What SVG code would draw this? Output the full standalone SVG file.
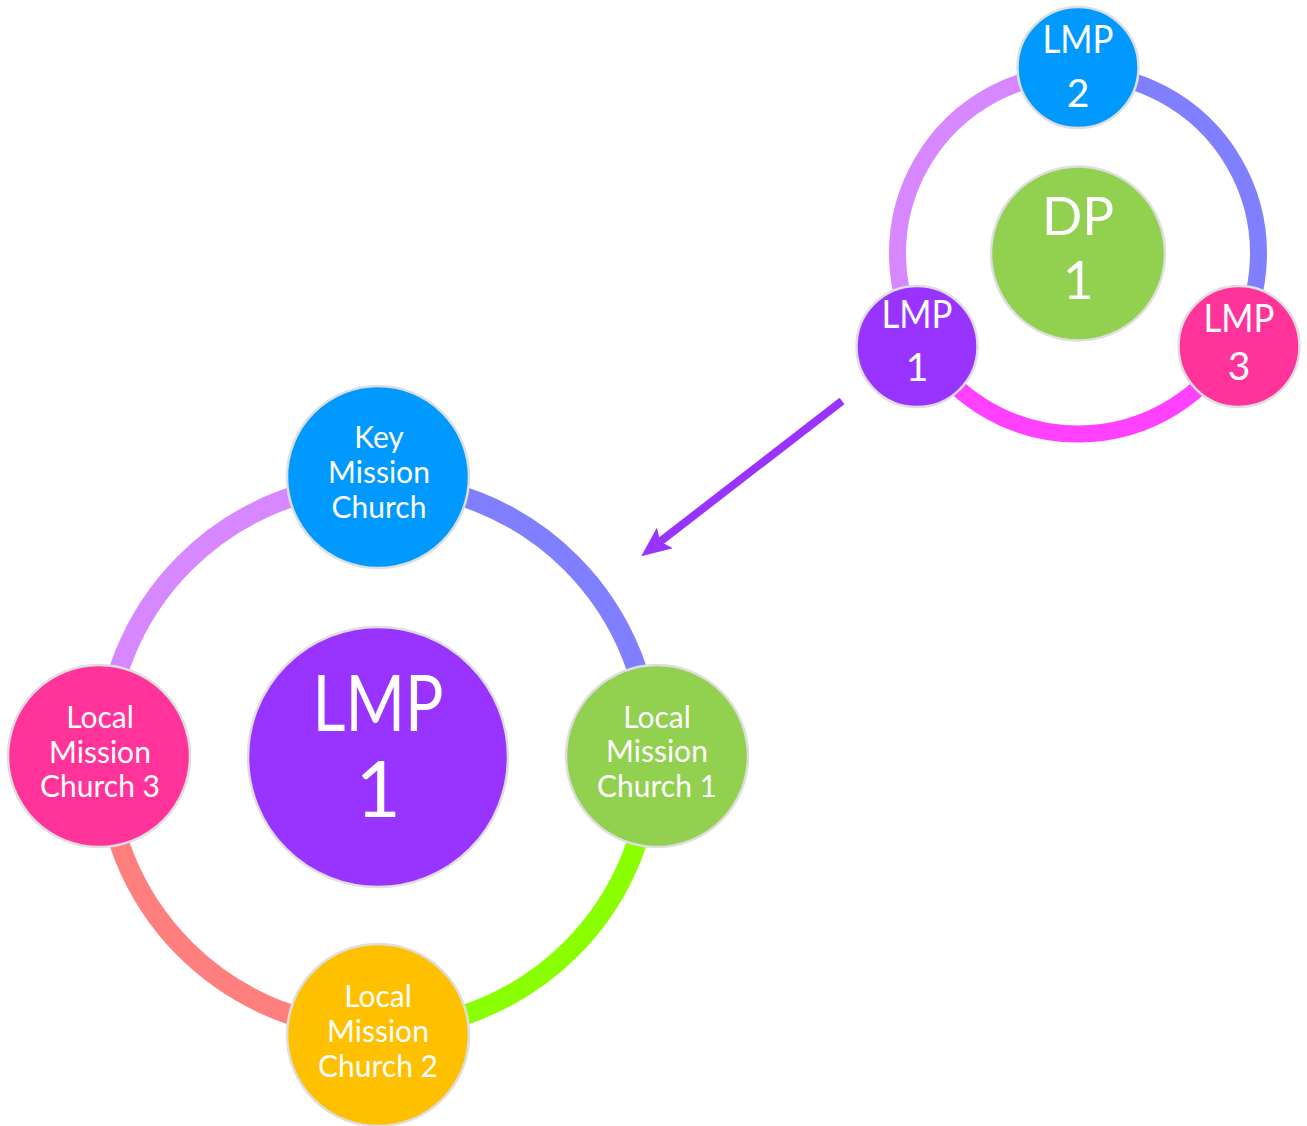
<svg xmlns="http://www.w3.org/2000/svg" width="1307" height="1126" viewBox="0 0 1307 1126">
<style>
.node{stroke:#dedede;stroke-width:2.5}
.t{fill:#ffffff;font-family:Lato,"Open Sans",sans-serif;text-anchor:middle}
.s30{font-size:30px}
.s39{font-size:39px}
.ring{fill:none}
</style>
<defs>
<marker id="ah" viewBox="0 0 30 26" refX="10" refY="13" markerWidth="30" markerHeight="26" markerUnits="userSpaceOnUse" orient="auto">
<path d="M0,0 L30,13 L0,26 L6,13 Z" fill="#9933ff"/>
</marker>
</defs>
<rect width="1307" height="1126" fill="#ffffff"/>
<g id="connectors">
<path class="ring" d="M378,483 A273,273 0 0 1 651,756" stroke="#7f7fff" stroke-width="20"/>
<path class="ring" d="M651,756 A273,273 0 0 1 378,1029" stroke="#8aff00" stroke-width="20"/>
<path class="ring" d="M378,1029 A273,273 0 0 1 105,756" stroke="#ff7f7f" stroke-width="20"/>
<path class="ring" d="M105,756 A273,273 0 0 1 378,483" stroke="#d787ff" stroke-width="20"/>
<path class="ring" d="M1078,73 A180.5,180.5 0 0 1 1234.3,343.75" stroke="#7f7fff" stroke-width="17"/>
<path class="ring" d="M1234.3,343.75 A180.5,180.5 0 0 1 921.7,343.75" stroke="#ff40ff" stroke-width="17"/>
<path class="ring" d="M921.7,343.75 A180.5,180.5 0 0 1 1078,73" stroke="#d787ff" stroke-width="17"/>
<line x1="842" y1="401" x2="657" y2="544" stroke="#9933ff" stroke-width="8" marker-end="url(#ah)"/>
</g>
<g id="lmp1-center">
<circle class="node" cx="378" cy="757" r="130" fill="#9933ff"/>
<text class="t" x="378" y="731" font-size="78" textLength="131" lengthAdjust="spacingAndGlyphs">LMP</text>
<text class="t" x="378" y="817" font-size="78">1</text>
</g>
<g id="key-mission-church">
<circle class="node" cx="378" cy="477" r="91" fill="#0099ff"/>
<text class="t s30" x="379" y="448">Key</text>
<text class="t s30" x="379" y="483">Mission</text>
<text class="t s30" x="379" y="518">Church</text>
</g>
<g id="local-mission-church-1">
<circle class="node" cx="657" cy="756" r="91" fill="#92d050"/>
<text class="t s30" x="657" y="728">Local</text>
<text class="t s30" x="657" y="762">Mission</text>
<text class="t s30" x="657" y="797">Church 1</text>
</g>
<g id="local-mission-church-2">
<circle class="node" cx="378" cy="1035" r="91" fill="#ffc000"/>
<text class="t s30" x="378" y="1007">Local</text>
<text class="t s30" x="378" y="1042">Mission</text>
<text class="t s30" x="378" y="1077">Church 2</text>
</g>
<g id="local-mission-church-3">
<circle class="node" cx="99" cy="756" r="91" fill="#ff3399"/>
<text class="t s30" x="100" y="728">Local</text>
<text class="t s30" x="100" y="763">Mission</text>
<text class="t s30" x="100" y="797">Church 3</text>
</g>
<g id="dp1">
<circle class="node" cx="1078" cy="253.5" r="87" fill="#92d050"/>
<text class="t" x="1078" y="235" font-size="53">DP</text>
<text class="t" x="1078" y="299" font-size="53">1</text>
</g>
<g id="lmp2">
<circle class="node" cx="1078" cy="67.5" r="60.5" fill="#0099ff"/>
<text class="t s39" x="1078" y="53" textLength="71" lengthAdjust="spacingAndGlyphs">LMP</text>
<text class="t s39" x="1078" y="107">2</text>
</g>
<g id="lmp1">
<circle class="node" cx="917" cy="346.5" r="60.5" fill="#9933ff"/>
<text class="t s39" x="917" y="328" textLength="71" lengthAdjust="spacingAndGlyphs">LMP</text>
<text class="t s39" x="917" y="381">1</text>
</g>
<g id="lmp3">
<circle class="node" cx="1239" cy="346.5" r="60.5" fill="#ff3399"/>
<text class="t s39" x="1239" y="332" textLength="71" lengthAdjust="spacingAndGlyphs">LMP</text>
<text class="t s39" x="1239" y="380">3</text>
</g>
</svg>
